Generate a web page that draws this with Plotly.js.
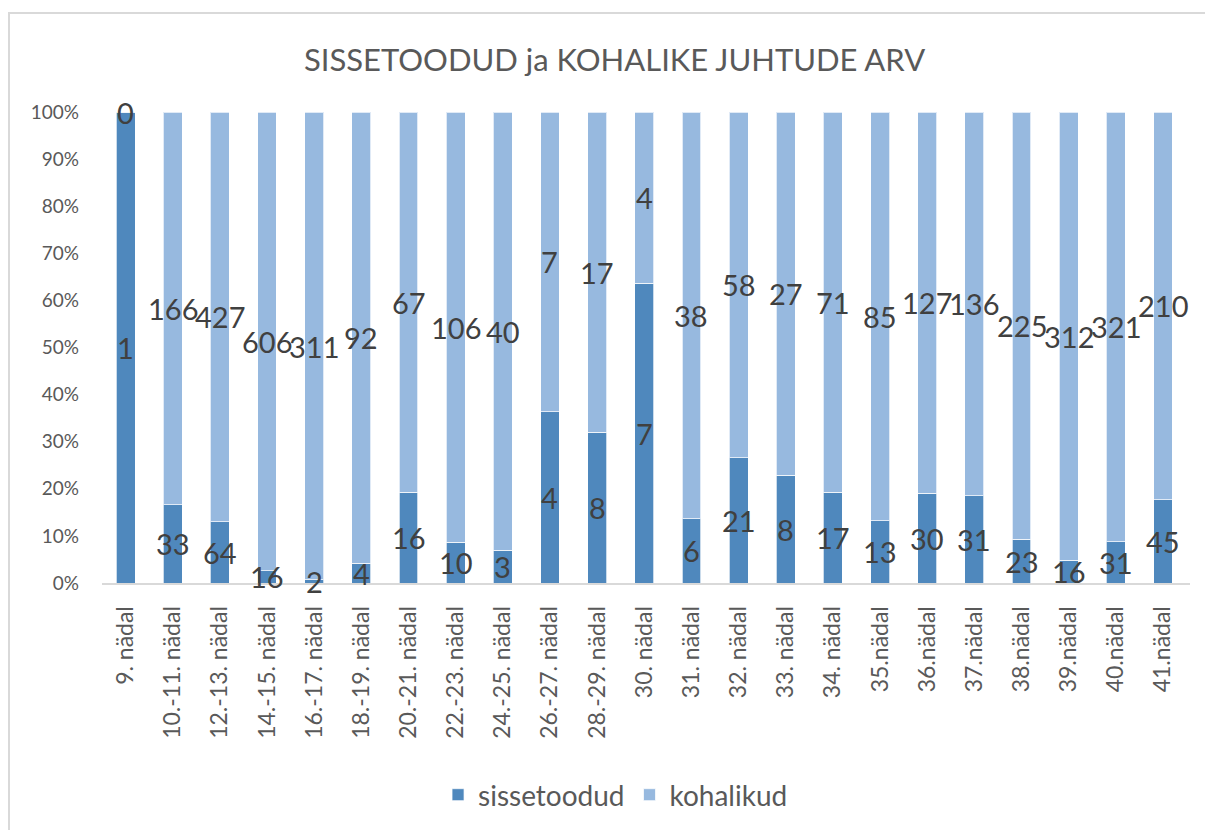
<!DOCTYPE html>
<html>
<head>
<meta charset="utf-8">
<script src="https://cdn.plot.ly/plotly-3.0.1.min.js"></script>
<style>
  html, body { margin: 0; padding: 0; background: #fff; }
  #wrap { position: relative; width: 1205px; height: 830px; overflow: hidden; }
  #frame { position: absolute; left: 8px; top: 12px; width: 1300px; height: 900px;
           border-top: 2px solid #d9d9d9; border-left: 2px solid #d9d9d9; pointer-events: none; }
  #chart { position: absolute; left: 0; top: 0; width: 1205px; height: 830px; }
</style>
</head>
<body>
<div id="wrap">
  <div id="chart"></div>
  <div id="frame"></div>
</div>
<script>
const categories = ["9. nädal", "10.-11. nädal", "12.-13. nädal", "14.-15. nädal", "16.-17. nädal",
  "18.-19. nädal", "20.-21. nädal", "22.-23. nädal", "24.-25. nädal", "26.-27. nädal",
  "28.-29. nädal", "30. nädal", "31. nädal", "32. nädal", "33. nädal", "34. nädal",
  "35.nädal", "36.nädal", "37.nädal", "38.nädal", "39.nädal", "40.nädal", "41.nädal"];
const sissetoodud = [1, 33, 64, 16, 2, 4, 16, 10, 3, 4, 8, 7, 6, 21, 8, 17, 13, 30, 31, 23, 16, 31, 45];
const kohalikud   = [0, 166, 427, 606, 311, 92, 67, 106, 40, 7, 17, 4, 38, 58, 27, 71, 85, 127, 136, 225, 312, 321, 210];
const yTicks = [0, 10, 20, 30, 40, 50, 60, 70, 80, 90, 100];

const FONT = "Lato, 'Open Sans', sans-serif";
const cDark = "#4F88BD", cLight = "#97B9DF";

const traces = [
  { type: "bar", name: "sissetoodud", x: categories, y: sissetoodud,
    marker: { color: cDark, line: { color: "rgba(255,255,255,0.7)", width: 1 } },
    width: 0.4, hoverinfo: "x+y+name" },
  { type: "bar", name: "kohalikud", x: categories, y: kohalikud,
    marker: { color: cLight, line: { color: "rgba(255,255,255,0.7)", width: 1 } },
    width: 0.4, hoverinfo: "x+y+name" }
];

// data labels at middle of each normalized segment
const annotations = [];
categories.forEach((c, i) => {
  const tot = sissetoodud[i] + kohalikud[i];
  const pS = tot ? sissetoodud[i] / tot * 100 : 0;
  const pK = tot ? kohalikud[i] / tot * 100 : 0;
  annotations.push({ x: c, y: pS / 2, text: String(sissetoodud[i]), showarrow: false,
    font: { family: FONT, size: 29, color: "#404040" } });
  annotations.push({ x: c, y: pS + pK / 2, text: String(kohalikud[i]), showarrow: false,
    font: { family: FONT, size: 29, color: "#404040" } });
});

const layout = {
  width: 1205, height: 830,
  paper_bgcolor: "rgba(0,0,0,0)", plot_bgcolor: "rgba(0,0,0,0)",
  margin: { l: 102, r: 15, t: 112, b: 246 },
  barmode: "stack", barnorm: "percent",
  font: { family: FONT, color: "#595959" },
  title: { text: "SISSETOODUD ja KOHALIKE JUHTUDE ARV", font: { family: FONT, size: 31, color: "#595959" },
           x: 0.51, xanchor: "center", y: 0.928, yanchor: "middle" },
  xaxis: { type: "category", tickangle: -90, showgrid: false, showline: true, linecolor: "#d9d9d9", linewidth: 2,
           ticks: "", tickfont: { family: FONT, size: 23, color: "#595959" }, ticklabelstandoff: 12,
           zeroline: false },
  yaxis: { range: [0, 100], tickvals: yTicks, ticktext: yTicks.map(v => v + "%"), showgrid: false,
           zeroline: false, showline: false, ticks: "", tickfont: { family: FONT, size: 19, color: "#595959" },
           ticklabelstandoff: 22 },
  legend: { orientation: "h", x: 0.472, xanchor: "center", y: -0.447, yanchor: "middle",
            font: { family: FONT, size: 28, color: "#595959" }, traceorder: "normal" },
  annotations: annotations,
  showlegend: true
};

Plotly.newPlot("chart", traces, layout, { displayModeBar: false, staticPlot: true });
</script>
</body>
</html>
